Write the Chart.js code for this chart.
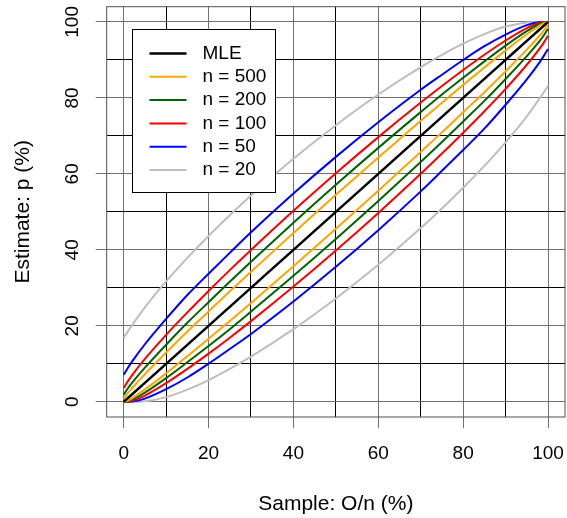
<!DOCTYPE html>
<html>
<head>
<meta charset="utf-8">
<script src="https://cdn.jsdelivr.net/npm/chart.js@4.4.1/dist/chart.umd.min.js"></script>
<style>
    html, body { margin: 0; padding: 0; background: #fff; }
    #wrap { width: 567px; height: 518px; }
</style>
</head>
<body>
<div id="wrap"><canvas id="chart"></canvas></div>
<script>
// Sample proportion O/n (%) at which the bounds were read
var samplePct = [0, 1, 2, 5, 10, 15, 20, 25, 30, 40, 50, 60, 70, 75, 80, 85, 90, 95, 98, 99, 100];

// MLE p = O/n
var mle = [0, 1, 2, 5, 10, 15, 20, 25, 30, 40, 50, 60, 70, 75, 80, 85, 90, 95, 98, 99, 100];

// Upper / lower 95% bounds (%) per sample size
var upper500 = [0.74, 2.32, 3.64, 7.30, 12.98, 18.50, 23.77, 29.08, 34.21, 44.45, 54.47, 64.33, 73.98, 78.74, 83.42, 88.00, 92.51, 96.74, 99.04, 99.67, 100];
var lower500 = [0, 0.33, 0.96, 3.26, 7.49, 12.00, 16.58, 21.26, 26.02, 35.67, 45.53, 55.55, 65.79, 70.92, 76.23, 81.50, 87.02, 92.70, 96.36, 97.68, 99.26];

var upper200 = [1.83, 3.57, 5.04, 9.00, 15.02, 20.80, 26.22, 31.60, 36.87, 47.13, 57.13, 66.84, 76.26, 80.90, 85.31, 89.60, 93.77, 97.58, 99.45, 99.88, 100];
var lower200 = [0, 0.12, 0.55, 2.42, 6.23, 10.40, 14.69, 19.10, 23.74, 33.16, 42.87, 52.87, 63.13, 68.40, 73.78, 79.20, 84.98, 91.00, 94.96, 96.43, 98.17];

var upper100 = [3.62, 5.45, 7.04, 11.28, 17.62, 23.53, 29.18, 34.66, 39.98, 50.28, 60.17, 69.67, 78.76, 83.12, 87.33, 91.35, 95.10, 98.36, 99.76, 99.97, 100];
var lower100 = [0, 0.03, 0.24, 1.64, 4.90, 8.65, 12.67, 16.88, 21.24, 30.33, 39.83, 49.72, 60.02, 65.34, 70.82, 76.47, 82.38, 88.72, 92.96, 94.55, 96.38];

var upper50 = [7.11, 8.94, 10.65, 15.15, 21.81, 28.10, 33.72, 39.20, 44.61, 54.82, 64.47, 73.59, 82.14, 86.10, 89.97, 93.60, 96.67, 99.15, 99.95, 100, 100];
var lower50 = [0, 0, 0.05, 0.85, 3.33, 6.40, 10.03, 13.90, 17.86, 26.41, 35.53, 45.18, 55.39, 60.80, 66.28, 71.90, 78.19, 84.85, 89.35, 91.06, 92.89];

var upper20 = [16.84, 18.54, 20.20, 24.87, 31.70, 37.89, 43.66, 49.10, 54.28, 63.95, 72.80, 80.88, 88.11, 91.34, 94.27, 96.79, 98.77, 99.87, 100, 100, 100];
var lower20 = [0, 0, 0, 0.13, 1.23, 3.21, 5.73, 8.66, 11.89, 19.12, 27.20, 36.05, 45.72, 50.90, 56.34, 62.11, 68.30, 75.13, 79.80, 81.46, 83.16];

var axisTicks = [0, 20, 40, 60, 80, 100];
var gridLines = [0, 10, 20, 30, 40, 50, 60, 70, 80, 90, 100];

var legendLabels = ["MLE", "n = 500", "n = 200", "n = 100", "n = 50", "n = 20"];
var legendColors = ["#000000", "#FFA500", "#006400", "#FF0000", "#0000FF", "#BEBEBE"];

var FONT = "'Liberation Sans', Arial, Helvetica, sans-serif";
var GRID_GRAY = "#707070";

// Build one line dataset
function CreateLine(ys, color, width) {
    return {
        data: samplePct.map(function (x, i) { return { x: x, y: ys[i] }; }),
        borderColor: color,
        borderWidth: width,
        pointRadius: 0,
        fill: false,
        cubicInterpolationMode: "monotone"
    };
}

var datasets = [
    CreateLine(mle, legendColors[0], 2.5),
    CreateLine(upper500, legendColors[1], 2), CreateLine(lower500, legendColors[1], 2),
    CreateLine(upper200, legendColors[2], 2), CreateLine(lower200, legendColors[2], 2),
    CreateLine(upper100, legendColors[3], 2), CreateLine(lower100, legendColors[3], 2),
    CreateLine(upper50, legendColors[4], 2), CreateLine(lower50, legendColors[4], 2),
    CreateLine(upper20, legendColors[5], 2), CreateLine(lower20, legendColors[5], 2)
];

function gridColor(ctx) {
    return ctx.tick && ctx.tick.value % 20 === 0 ? GRID_GRAY : "#000000";
}
function tickColor(ctx) {
    return ctx.tick && ctx.tick.value % 20 === 0 ? GRID_GRAY : "rgba(0,0,0,0)";
}
function setTicks(scale) {
    scale.ticks = gridLines.map(function (v) { return { value: v }; });
}

// Box, rotated y labels and legend
var extras = {
    id: "extras",
    afterDraw: function (chart) {
        var ctx = chart.ctx;
        var a = chart.chartArea;
        var xs = chart.scales.x, ys = chart.scales.y;
        ctx.save();

        ctx.strokeStyle = "#505050";
        ctx.lineWidth = 1;
        ctx.strokeRect(a.left, a.top, a.right - a.left, a.bottom - a.top);

        ctx.fillStyle = "#000";
        ctx.font = "19px " + FONT;
        ctx.textAlign = "center";
        ctx.textBaseline = "middle";
        axisTicks.forEach(function (v) {
            ctx.save();
            ctx.translate(72.5, ys.getPixelForValue(v));
            ctx.rotate(-Math.PI / 2);
            ctx.fillText(String(v), 0, 0);
            ctx.restore();
        });

        // legend
        var lx = Math.round(xs.getPixelForValue(2)) + 0.5;
        var ly = Math.round(ys.getPixelForValue(98)) + 0.5;
        var lw = 143, lh = 163;
        ctx.fillStyle = "#fff";
        ctx.fillRect(lx, ly, lw, lh);
        ctx.strokeStyle = "#000";
        ctx.strokeRect(lx, ly, lw, lh);
        ctx.textAlign = "left";
        legendLabels.forEach(function (label, i) {
            var y = ly + 24 + i * 23.3;
            ctx.strokeStyle = legendColors[i];
            ctx.lineWidth = i === 0 ? 2.5 : 2;
            ctx.beginPath();
            ctx.moveTo(lx + 17, y);
            ctx.lineTo(lx + 54, y);
            ctx.stroke();
            ctx.fillStyle = "#000";
            ctx.fillText(label, lx + 70, y);
        });
        ctx.restore();
    }
};

new Chart(document.getElementById("chart"), {
    type: "line",
    data: { datasets: datasets },
    options: {
        responsive: true,
        maintainAspectRatio: false,
        animation: false,
        layout: { padding: { top: 6.7, right: 2, left: 0, bottom: 0 } },
        plugins: { legend: { display: false }, tooltip: { enabled: false } },
        scales: {
            x: {
                type: "linear",
                min: -4,
                max: 104,
                afterBuildTicks: setTicks,
                afterFit: function (s) { s.height = 101; s.paddingLeft = 0; s.paddingRight = 0; },
                border: { display: false },
                grid: { color: gridColor, lineWidth: 1, tickLength: 11, tickColor: tickColor },
                ticks: {
                    autoSkip: false,
                    maxRotation: 0,
                    padding: 14,
                    color: "#000",
                    font: { family: FONT, size: 19 },
                    callback: function (v) { return v % 20 === 0 ? String(v) : ""; }
                },
                title: {
                    display: true,
                    text: "Sample: O/n (%)",
                    color: "#000",
                    font: { family: FONT, size: 21 },
                    padding: { top: 0, bottom: 1.5 }
                }
            },
            y: {
                type: "linear",
                min: -4,
                max: 104,
                afterBuildTicks: setTicks,
                afterFit: function (s) { s.width = 106.7; s.paddingTop = 0; s.paddingBottom = 0; },
                border: { display: false },
                grid: { color: gridColor, lineWidth: 1, tickLength: 11, tickColor: tickColor },
                ticks: { display: false },
                title: {
                    display: true,
                    text: "Estimate: p (%)",
                    color: "#000",
                    font: { family: FONT, size: 21 },
                    padding: { top: 10.5, bottom: 0 }
                }
            }
        }
    },
    plugins: [extras]
});
</script>
</body>
</html>
